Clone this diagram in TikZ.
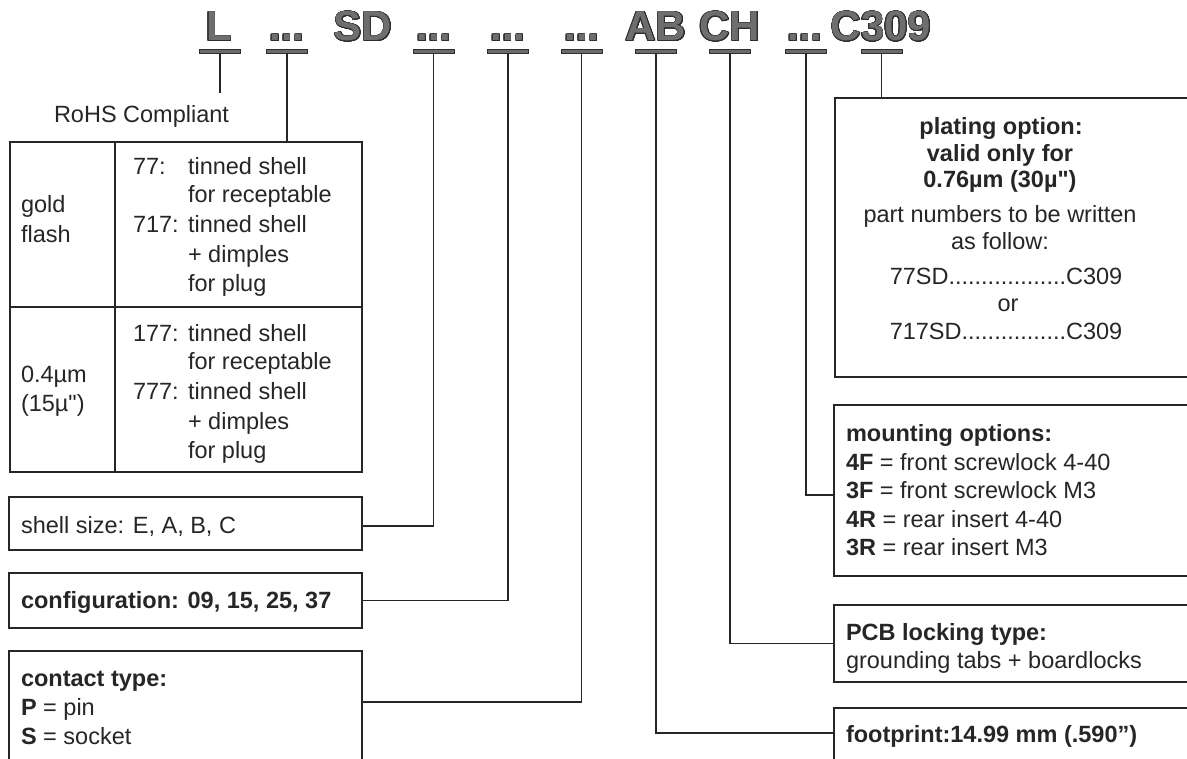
\documentclass[tikz,border=0pt]{standalone}
\usepackage{fontspec}
\setmainfont{Liberation Sans}
\newfontfamily\rawfont{Liberation Sans}
\usepackage[copies]{contour}
\contourlength{0.75pt}
\contournumber{24}
\usetikzlibrary{calc}
\definecolor{ink}{HTML}{262626}
\definecolor{hdrfill}{HTML}{6E6E6E}
\definecolor{hdredge}{HTML}{2E2E2E}
\begin{document}
\begin{tikzpicture}[x=1pt,y=-1pt,
  every node/.style={inner sep=0pt, outer sep=0pt},
  txt/.style={anchor=base west, text=ink, font=\rawfont\fontsize{23.5}{28}\selectfont},
  ctxt/.style={anchor=base, text=ink, font=\rawfont\fontsize{23.5}{28}\selectfont},
  hdr/.style={anchor=base, text=hdrfill, font=\rawfont\fontsize{42}{48}\selectfont\bfseries},
  hbar/.style={rectangle, draw=hdredge, fill=black!58, line width=0.9pt, minimum width=41pt, minimum height=4.5pt},
  box/.style={rectangle, draw=ink, line width=1.4pt},
  conn/.style={draw=ink, line width=1.3pt},
]
\path[use as bounding box, clip] (0,0) rectangle (1187,759);
\fill[white] (0,0) rectangle (1187,759);

% ---------- header code ----------
\node[hdr] (hL)   at (219,41) {\contour{hdredge}{L}};
\node[hdr] (hD1)  at (287,41) {\contour{hdredge}{...}};
\node[hdr] (hSD)  at (363,41) {\contour{hdredge}{SD}};
\node[hdr] (hD2)  at (434,41) {\contour{hdredge}{...}};
\node[hdr] (hD3)  at (508,41) {\contour{hdredge}{...}};
\node[hdr] (hD4)  at (582,41) {\contour{hdredge}{...}};
\node[hdr] (hAB)  at (656,41) {\contour{hdredge}{AB}};
\node[hdr] (hCH)  at (730,41) {\contour{hdredge}{CH}};
\node[hdr] (hD5)  at (805,41) {\contour{hdredge}{...}};
\node[hdr] (hC)   at (881,41) {\contour{hdredge}{C309}};

\node[hbar] (b1) at (220,51.5) {};
\node[hbar] (b2) at (287,51.5) {};
\node[hbar] (b3) at (433.5,51.5) {};
\node[hbar] (b4) at (508,51.5) {};
\node[hbar] (b5) at (581.5,51.5) {};
\node[hbar] (b6) at (656,51.5) {};
\node[hbar] (b7) at (730,51.5) {};
\node[hbar] (b8) at (806,51.5) {};
\node[hbar] (b9) at (881.5,51.5) {};

% ---------- boxes ----------
\node[box, minimum width=352pt, minimum height=330pt] (tbl) at (186,307) {};
\draw[box] ([xshift=105pt]tbl.north west) -- ([xshift=105pt]tbl.south west);
\draw[box] (tbl.west) -- (tbl.east);
\node[box, minimum width=353pt, minimum height=53pt]  (shell)   at (185.5,523.5) {};
\node[box, minimum width=353pt, minimum height=55pt]  (config)  at (185.5,600.5) {};
\node[box, minimum width=353pt, minimum height=149pt] (contact) at (185.5,725.5) {};

\node[box, minimum width=366pt, minimum height=279pt] (plate) at (1018,237.5) {};
\node[box, minimum width=366pt, minimum height=171pt] (mount) at (1017,490.5) {};
\node[box, minimum width=366pt, minimum height=77pt]  (pcb)   at (1017,643.5) {};
\node[box, minimum width=366pt, minimum height=92pt]  (foot)  at (1017,754) {};

% ---------- connectors ----------
\draw[conn] (b1.south) -- ++(0,39) coordinate (rohsend);
\draw[conn] (b2.south) -- (b2.south |- tbl.north);
\draw[conn] (b3.south) |- ($(shell.east)+(0,2.5)$);
\draw[conn] (b4.south) |- (config.east);
\draw[conn] (b5.south) |- ($(contact.north east)+(0,51)$);
\draw[conn] (b6.south) |- ($(foot.north west)+(0,25)$);
\draw[conn] (b7.south) |- (pcb.west);
\draw[conn] (b8.south) |- ($(mount.west)+(0,4.5)$);
\draw[conn] (b9.south) -- (b9.south |- plate.north);

% ---------- left texts ----------
\node[txt] (rohs) at (54,123) {RoHS Compliant};
\node[txt] (g1) at (21,213) {gold};
\node[txt] (g2) at (21,243) {flash};
\node[txt] (g3) at (21,383) {0.4µm};
\node[txt] (g4) at (21,412) {(15µ")};

\node[txt] (p77)  at (133,175) {77:};
\node[txt] (r1a)  at (188,175) {tinned shell};
\node[txt] (r1b)  at (188,203) {for receptable};
\node[txt] (p717) at (133,233) {717:};
\node[txt] (r1c)  at (188,233) {tinned shell};
\node[txt] (r1d)  at (188,263) {+ dimples};
\node[txt] (r1e)  at (188,292) {for plug};

\node[txt] (p177) at (133,342) {177:};
\node[txt] (r2a)  at (188,342) {tinned shell};
\node[txt] (r2b)  at (188,370) {for receptable};
\node[txt] (p777) at (133,400) {777:};
\node[txt] (r2c)  at (188,400) {tinned shell};
\node[txt] (r2d)  at (188,430) {+ dimples};
\node[txt] (r2e)  at (188,458) {for plug};

\node[txt] (shelltx) at (21,533) {shell size: E, A, B, C};
\node[txt] (conftx)  at (21,608) {\textbf{configuration: 09, 15, 25, 37}};
\node[txt] (ct1) at (21,686) {\textbf{contact type:}};
\node[txt] (ct2) at (21,715) {\textbf{P} = pin};
\node[txt] (ct3) at (21,744) {\textbf{S} = socket};

% ---------- right texts ----------
\node[ctxt] (pl1) at (1001,135) {\textbf{plating option:}};
\node[ctxt] (pl2) at (1000,162) {\textbf{valid only for}};
\node[ctxt] (pl3) at (1000,188) {\textbf{0.76µm (30µ")}};
\node[ctxt] (pl4) at (1000,223) {part numbers to be written};
\node[ctxt] (pl5) at (1000,250) {as follow:};
\node[ctxt] (pl6) at (1006,285) {77SD..................C309};
\node[ctxt] (pl7) at (1008,312) {or};
\node[ctxt] (pl8) at (1006,340) {717SD................C309};

\node[txt] (m1) at (846,442) {\textbf{mounting options:}};
\node[txt] (m2) at (846,470) {\textbf{4F} = front screwlock 4-40};
\node[txt] (m3) at (846,498) {\textbf{3F} = front screwlock M3};
\node[txt] (m4) at (846,527) {\textbf{4R} = rear insert 4-40};
\node[txt] (m5) at (846,555) {\textbf{3R} = rear insert M3};

\node[txt] (pc1) at (846,640) {\textbf{PCB locking type:}};
\node[txt] (pc2) at (846,668) {grounding tabs + boardlocks};

\node[txt] (fp1) at (846,742) {\textbf{footprint:14.99 mm (.590”)}};
\end{tikzpicture}
\end{document}
